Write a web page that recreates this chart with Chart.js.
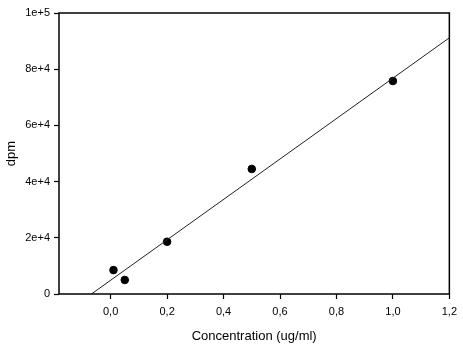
<!DOCTYPE html>
<html>
<head>
<meta charset="utf-8">
<script src="https://cdn.jsdelivr.net/npm/chart.js@4/dist/chart.umd.min.js"></script>
<style>
  html, body { margin: 0; padding: 0; background: #fff; }
  #wrap { width: 463px; height: 344px; }
</style>
</head>
<body>
<div id="wrap"><canvas id="chart" width="463" height="344"></canvas></div>
<script>
// standard curve: measured activity vs concentration
const concentration = [0.01, 0.05, 0.2, 0.5, 1.0];
const dpm = [8500, 5000, 18600, 44500, 75800];

// linear fit, drawn across the plotted range
const fitSlope = 71900;
const fitIntercept = 4900;
const fitRange = [-0.068, 1.2];

const xTicks = [0, 0.2, 0.4, 0.6, 0.8, 1.0, 1.2];
const yTicks = [0, 20000, 40000, 60000, 80000, 100000];

const fitLine = fitRange.map(x => ({ x: x, y: fitSlope * x + fitIntercept }));
const points = concentration.map((x, i) => ({ x: x, y: dpm[i] }));

const frame = {
    id: 'frame',
    afterDraw(chart) {
        const a = chart.chartArea;
        const c = chart.ctx;
        c.save();
        c.strokeStyle = '#000';
        c.lineWidth = 1.5;
        c.strokeRect(a.left, a.top, a.right - a.left, a.bottom - a.top);
        c.restore();
    }
};

const family = '"Liberation Sans", Arial, sans-serif';
const font = { family: family, size: 11 };

const ctx = document.getElementById('chart').getContext('2d');
const chart = new Chart(ctx, {
    type: 'scatter',
    data: {
        datasets: [
            {
                label: 'fit',
                type: 'line',
                data: fitLine,
                borderColor: '#222',
                borderWidth: 1,
                pointRadius: 0,
                fill: false
            },
            {
                label: 'dpm',
                data: points,
                backgroundColor: '#000',
                borderColor: '#000',
                pointRadius: 3.8,
                pointHoverRadius: 3.8
            }
        ]
    },
    options: {
        responsive: false,
        animation: false,
        layout: { padding: { left: 0, top: 13, right: 12, bottom: 0 } },
        plugins: { legend: { display: false }, tooltip: { enabled: false } },
        scales: {
            x: {
                type: 'linear',
                min: -0.183,
                max: 1.2,
                afterBuildTicks: s => { s.ticks = xTicks.map(v => ({ value: v })); },
                afterFit: s => { s.height = 50; },
                grid: { drawOnChartArea: false, tickLength: 5, tickColor: '#000', tickWidth: 1.2 },
                border: { display: false },
                ticks: {
                    color: '#000',
                    font: font,
                    padding: 6,
                    maxRotation: 0,
                    callback: v => v.toFixed(1).replace('.', ',')
                },
                title: {
                    display: true,
                    text: 'Concentration (ug/ml)',
                    color: '#000',
                    font: { family: family, size: 13 },
                    padding: { top: 6, bottom: 0 }
                }
            },
            y: {
                type: 'linear',
                min: 0,
                max: 100000,
                afterBuildTicks: s => { s.ticks = yTicks.map(v => ({ value: v })); },
                afterFit: s => { s.width = 59; },
                grid: { drawOnChartArea: false, tickLength: 5, tickColor: '#000', tickWidth: 1.2 },
                border: { display: false },
                ticks: {
                    color: '#000',
                    font: font,
                    padding: 4,
                    callback: v => v === 0 ? '0' : v.toExponential(0)
                },
                title: {
                    display: true,
                    text: 'dpm',
                    color: '#000',
                    font: { family: family, size: 13 },
                    padding: { top: 4, bottom: 0 }
                }
            }
        }
    },
    plugins: [frame]
});
</script>
</body>
</html>
